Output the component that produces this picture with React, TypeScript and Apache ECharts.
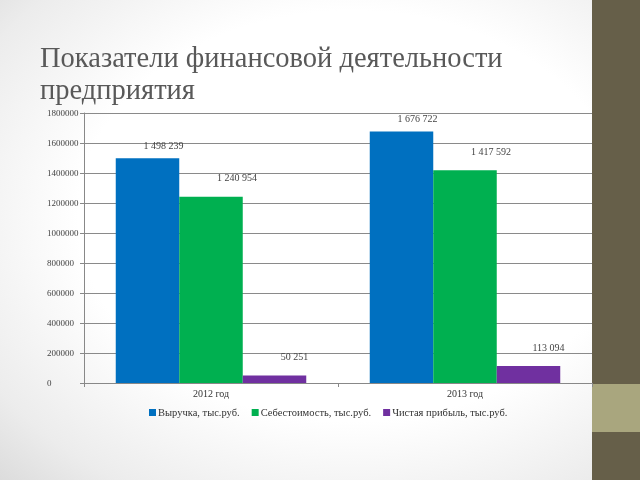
import React, { useEffect, useRef } from "react";
import * as echarts from "echarts";

const categories = ["2012 год", "2013 год"];
const seriesNames = ["Выручка, тыс.руб.", "Себестоимость, тыс.руб.", "Чистая прибыль, тыс.руб."];
const revenue = [1498239, 1676722];
const cost = [1240954, 1417592];
const profit = [50251, 113094];
const yTicks = { min: 0, max: 1800000, interval: 200000 };

const colors = ["#0070c0", "#00b050", "#7030a0"];
const labelOffsets: [number, number][] = [[16, -3], [26, -9], [20, -9]];

const fmt = (v: number) => String(v).replace(/\B(?=(\d{3})+(?!\d))/g, " ");

export default function App() {
  const ref = useRef<HTMLDivElement>(null);
  useEffect(() => {
    if (!ref.current) return;
    const chart = echarts.init(ref.current, null, { renderer: "svg" });
    const serif = "'Liberation Serif', 'DejaVu Serif', serif";
    const values = [revenue, cost, profit];
    chart.setOption({
      animation: false,
      title: {
        text: "Показатели финансовой деятельности\nпредприятия",
        left: 35,
        top: 36,
        textStyle: {
          fontFamily: serif,
          fontSize: 28.5,
          fontWeight: "normal",
          color: "#595959",
          lineHeight: 32,
        },
      },
      graphic: [
        { type: "rect", left: 592, top: 0, shape: { width: 48, height: 480 }, style: { fill: "#665f49" }, z: 0 },
        { type: "rect", left: 592, top: 384, shape: { width: 48, height: 48 }, style: { fill: "#a9a67e" }, z: 0 },
      ],
      legend: {
        data: seriesNames,
        bottom: 57,
        left: 144,
        itemWidth: 7,
        itemHeight: 7,
        itemGap: 12,
        icon: "rect",
        textStyle: { fontFamily: serif, fontSize: 10.5, color: "#333", padding: [0, 0, 0, -3] },
      },
      grid: { left: 84, right: 48, top: 113, bottom: 97 },
      xAxis: {
        type: "category",
        data: categories,
        axisLine: { lineStyle: { color: "#888" } },
        axisTick: { show: true, length: 4, lineStyle: { color: "#888" } },
        axisLabel: { fontFamily: serif, fontSize: 10, color: "#333", margin: 5 },
      },
      yAxis: {
        type: "value",
        min: yTicks.min,
        max: yTicks.max,
        interval: yTicks.interval,
        axisLine: { show: true, lineStyle: { color: "#888" } },
        axisTick: { show: true, length: 4, lineStyle: { color: "#888" } },
        splitLine: { lineStyle: { color: "#8a8a8a", width: 1 } },
        axisLabel: {
          fontFamily: serif,
          fontSize: 9,
          color: "#444",
          align: "left",
          margin: 37,
          formatter: (v: number) => String(v),
        },
      },
      series: seriesNames.map((name, i) => ({
        name,
        type: "bar",
        data: values[i],
        barGap: "0%",
        barCategoryGap: "25%",
        itemStyle: { color: colors[i] },
        label: {
          show: true,
          position: "top",
          offset: labelOffsets[i],
          fontFamily: serif,
          fontSize: 10,
          color: "#444",
          formatter: (p: any) => fmt(p.value),
        },
      })),
    });
    return () => chart.dispose();
  }, []);
  return (
    <div
      style={{
        position: "fixed",
        left: 0,
        top: 0,
        width: 640,
        height: 480,
        background: "radial-gradient(ellipse at 55% 45%, #ffffff 55%, #ececec 85%, #dcdcdc 100%)",
      }}
    >
      <div ref={ref} style={{ width: 640, height: 480 }} />
    </div>
  );
}
